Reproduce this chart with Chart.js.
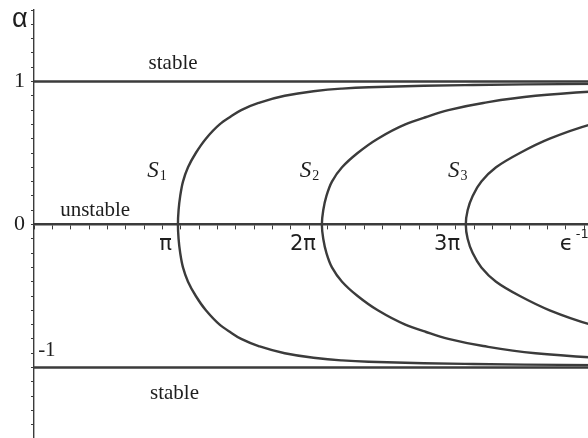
<!DOCTYPE html>
<html>
<head>
<meta charset="utf-8">
<script src="https://cdn.jsdelivr.net/npm/chart.js@4.4.1/dist/chart.umd.min.js"></script>
<style>
  html, body { margin: 0; padding: 0; background: #fff; overflow: hidden; }
  #wrap { position: relative; width: 612px; height: 449px; }
</style>
</head>
<body>
<div id="wrap"><canvas id="stabilityChart"></canvas></div>
<script>
// axis ranges (x in units of the driving parameter, y is alpha)
const X_MAX = 12.4;
const Y_MIN = -1.5, Y_MAX = 1.5;
const xTickStep = 0.4, yTickStep = 0.1;
const piLabels = ['π', '2π', '3π'];

// boundary curves S1, S2, S3: alpha values and matching x positions
const alphaS1 = [0.985, 0.98, 0.975, 0.97, 0.96, 0.95, 0.93, 0.9, 0.85, 0.8, 0.75, 0.7, 0.6, 0.5, 0.4, 0.3, 0.2, 0.1, 0,
                 -0.1, -0.2, -0.3, -0.4, -0.5, -0.6, -0.7, -0.75, -0.8, -0.85, -0.9, -0.93, -0.95, -0.96, -0.97, -0.975, -0.98, -0.985];
const xS1 = [13.2, 10.7, 9.4, 8.5, 7.3, 6.7, 6.06, 5.47, 4.9, 4.52, 4.27, 4.05, 3.75, 3.53, 3.36, 3.25, 3.19, 3.154, 3.14,
             3.154, 3.19, 3.25, 3.36, 3.53, 3.75, 4.05, 4.27, 4.52, 4.9, 5.47, 6.06, 6.7, 7.3, 8.5, 9.4, 10.7, 13.2];

const alphaS2 = [0.95, 0.93, 0.9, 0.85, 0.8, 0.75, 0.7, 0.6, 0.5, 0.4, 0.3, 0.2, 0.1, 0,
                 -0.1, -0.2, -0.3, -0.4, -0.5, -0.6, -0.7, -0.75, -0.8, -0.85, -0.9, -0.93, -0.95];
const xS2 = [13.4, 12.2, 10.94, 9.8, 9.04, 8.54, 8.1, 7.5, 7.06, 6.72, 6.5, 6.38, 6.31, 6.28,
             6.31, 6.38, 6.5, 6.72, 7.06, 7.5, 8.1, 8.54, 9.04, 9.8, 10.94, 12.2, 13.4];

const alphaS3 = [0.8, 0.75, 0.7, 0.6, 0.5, 0.4, 0.3, 0.2, 0.1, 0,
                 -0.1, -0.2, -0.3, -0.4, -0.5, -0.6, -0.7, -0.75, -0.8];
const xS3 = [13.5, 12.8, 12.15, 11.25, 10.6, 10.08, 9.76, 9.57, 9.46, 9.42,
             9.46, 9.57, 9.76, 10.08, 10.6, 11.25, 12.15, 12.8, 13.5];

// the two horizontal stability bounds
const boundLevels = [1, -1];

const INK = '#3b3b3b';
const TEXT = '#1e1e1e';
const SERIF = '"Liberation Serif", "Times New Roman", serif';
const SANS = '"DejaVu Sans", "Liberation Sans", sans-serif';

function toPoints(xs, as) {
    return xs.map((x, i) => ({ x: x, y: as[i] }));
}

// each curve is x as a smooth function of alpha, so interpolate along y
function curve(xs, as) {
    return {
        data: toPoints(xs, as),
        indexAxis: 'y',
        cubicInterpolationMode: 'monotone',
        borderColor: INK,
        borderWidth: 2.4,
        pointRadius: 0,
        showLine: true,
        fill: false
    };
}

const datasets = boundLevels.map(level => ({
    data: [{ x: 0, y: level }, { x: X_MAX, y: level }],
    borderColor: INK,
    borderWidth: 2.6,
    pointRadius: 0,
    showLine: true,
    tension: 0
}));
datasets.push(curve(xS1, alphaS1), curve(xS2, alphaS2), curve(xS3, alphaS3));

// text labels drawn on top of the plot
const labelPlugin = {
    id: 'regionLabels',
    afterDraw(chart) {
        const ctx = chart.ctx;
        const xs = chart.scales.x, ys = chart.scales.y;
        const px = v => xs.getPixelForValue(v);
        const py = v => ys.getPixelForValue(v);
        ctx.save();
        ctx.fillStyle = TEXT;
        ctx.textBaseline = 'alphabetic';

        ctx.font = '21px ' + SERIF;
        ctx.textAlign = 'left';
        ctx.fillText('stable', px(2.5), py(1.09));
        ctx.fillText('unstable', px(0.57), py(0.06));
        ctx.fillText('stable', px(2.53), py(-1.22));
        ctx.fillText('-1', px(0.09), py(-0.92));

        // S_n curve names
        const sPos = [2.47, 5.8, 9.03];
        sPos.forEach((xv, i) => {
            ctx.font = 'italic 23px ' + SERIF;
            const x0 = px(xv), y0 = py(0.33);
            ctx.fillText('S', x0, y0);
            const w = ctx.measureText('S').width;
            ctx.font = '14px ' + SERIF;
            ctx.fillText(String(i + 1), x0 + w + 1, y0 + 3);
        });

        // multiples of pi on the x axis
        ctx.font = '21px ' + SANS;
        ctx.textAlign = 'right';
        piLabels.forEach((t, i) => {
            ctx.fillText(t, px((i + 1) * Math.PI) - 6, py(0) + 25);
        });
        ctx.textAlign = 'left';
        ctx.font = '22px ' + SANS;
        ctx.fillText('ϵ', px(11.47), py(0) + 25);
        ctx.font = '13px ' + SANS;
        ctx.fillText('-1', px(11.47) + 16, py(0) + 13);

        // alpha axis name
        ctx.font = '27px "Liberation Sans", sans-serif';
        ctx.fillText('α', chart.chartArea.left - 22, chart.chartArea.top + 17);
        ctx.restore();
    }
};

const ctx = document.getElementById('stabilityChart').getContext('2d');
new Chart(ctx, {
    type: 'scatter',
    data: { datasets: datasets },
    options: {
        responsive: true,
        maintainAspectRatio: false,
        animation: false,
        layout: { padding: { left: 0, top: 10, right: 9.6, bottom: 10 } },
        plugins: {
            legend: { display: false },
            tooltip: { enabled: false }
        },
        scales: {
            x: {
                type: 'linear',
                min: 0,
                max: X_MAX,
                position: { y: 0 },
                afterFit: s => { s.height = 0; },
                border: { color: INK, width: 2.4 },
                grid: { drawOnChartArea: false, tickLength: 4, color: INK, tickWidth: 1 },
                ticks: { stepSize: xTickStep, autoSkip: false, display: false }
            },
            y: {
                type: 'linear',
                min: Y_MIN,
                max: Y_MAX,
                position: 'left',
                afterFit: s => { s.width = 34; s.paddingTop = 0; s.paddingBottom = 0; },
                border: { color: INK, width: 1.4 },
                grid: { drawOnChartArea: false, tickLength: 3, color: INK, tickWidth: 1 },
                ticks: {
                    stepSize: yTickStep,
                    autoSkip: false,
                    padding: 6,
                    color: TEXT,
                    font: { family: SERIF, size: 22 },
                    callback: v => Math.abs(v - 1) < 1e-6 ? '1' : (Math.abs(v) < 1e-6 ? '0' : '')
                }
            }
        }
    },
    plugins: [labelPlugin]
});
</script>
</body>
</html>
